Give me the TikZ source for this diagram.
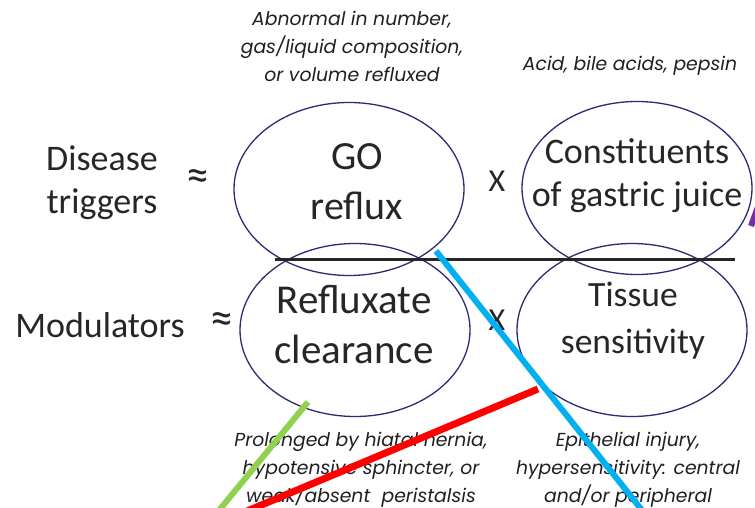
\documentclass[tikz,border=0pt]{standalone}
\usepackage{fontspec}
\setmainfont{Carlito}
\newfontfamily\notefont{Poppins}
\usetikzlibrary{shapes.geometric}
\definecolor{ovalblue}{HTML}{2B2A72}
\definecolor{textgray}{HTML}{262626}
\definecolor{notegray}{HTML}{1F1F1F}
\definecolor{lgreen}{HTML}{92D050}
\definecolor{lblue}{HTML}{00B0F0}
\definecolor{lpurple}{HTML}{7030A0}
\begin{document}
\begin{tikzpicture}[x=1pt,y=-1pt,
  oval/.style={draw=ovalblue, line width=1.3pt, ellipse, minimum width=230pt, minimum height=173pt, inner sep=0pt},
  note/.style={font=\notefont\itshape\fontsize{18.8}{28}\selectfont, align=center, text=notegray, inner sep=0pt},
  big/.style={font=\fontsize{#1}{50}\selectfont, align=center, text=textgray, inner sep=0pt},
  big/.default=36,
  side/.style={font=\fontsize{36}{43}\selectfont, align=center, text=textgray, inner sep=0pt},
  times/.style={font=\fontsize{32}{32}\selectfont, text=textgray, inner sep=0pt},
  approx/.style={font=\fontsize{46}{46}\selectfont, text=textgray, inner sep=0pt},
  bar/.style={draw=textgray, line width=3pt},
  stroke/.style={line width=#1, line cap=butt}
]
\path[use as bounding box] (0,0) rectangle (755,508);
\clip (0,0) rectangle (755,508);

% ellipses
\node[oval] (go) at (349,189) {};
\node[oval] (cg) at (637,188) {};
\node[oval] (rc) at (355,330) {};
\node[oval] (ts) at (632,330) {};

% texts in ellipses
\node[big=40] (gotxt) at (357,182) {GO\\reflux};
\node[big=36, font=\fontsize{36}{43}\selectfont] (cgtxt) at (637,176) {Constituents\\of gastric juice};
\node[big=41] (rctxt) at (354,325) {Refluxate\\clearance};
\node[big=35.5, font=\fontsize{35.5}{47}\selectfont] (tstxt) at (633,321) {Tissue\\sensitivity};

% side labels
\node[side] (dt) at (102,183) {Disease\\triggers};
\node[side] (md) at (100,325) {Modulators};
\node[approx] (ap1) at (198,180) {≈};
\node[approx] (ap2) at (222,323) {≈};
\node[times] (x1) at (497,181) {X};
\node[times] (x2) at (497,320) {X};

% separator
\coordinate (b1) at (275,259);
\coordinate (b2) at (735,259);
\draw[bar] (b1) -- (b2);

% notes
\node[note] (n1) at (352,46) {Abnormal in number,\\gas/liquid composition,\\or volume refluxed};
\node[note] (n2) at (630,66) {Acid, bile acids, pepsin};
\node[note] (n3) at (361,470) {Prolonged by hiatal hernia,\\hypotensive sphincter, or\\weak/absent\ \ peristalsis};
\node[note] (n4) at (628,470) {Epithelial injury,\\hypersensitivity: central\\and/or peripheral};

% coloured strokes
\coordinate (g1) at (308,402);
\coordinate (g2) at (216,514);
\draw[stroke=6pt, draw=lgreen] (g1) -- (g2);
\coordinate (r1) at (538,389);
\coordinate (r2) at (240,514);
\draw[stroke=7pt, draw=red] (r1) -- (r2);
\coordinate (c1) at (436,251);
\coordinate (c2) at (645,514);
\draw[stroke=6pt, draw=lblue] (c1) -- (c2);
\coordinate (p1) at (751,226);
\coordinate (p2) at (762,196);
\draw[stroke=6pt, draw=lpurple] (p1) -- (p2);
\end{tikzpicture}
\end{document}
